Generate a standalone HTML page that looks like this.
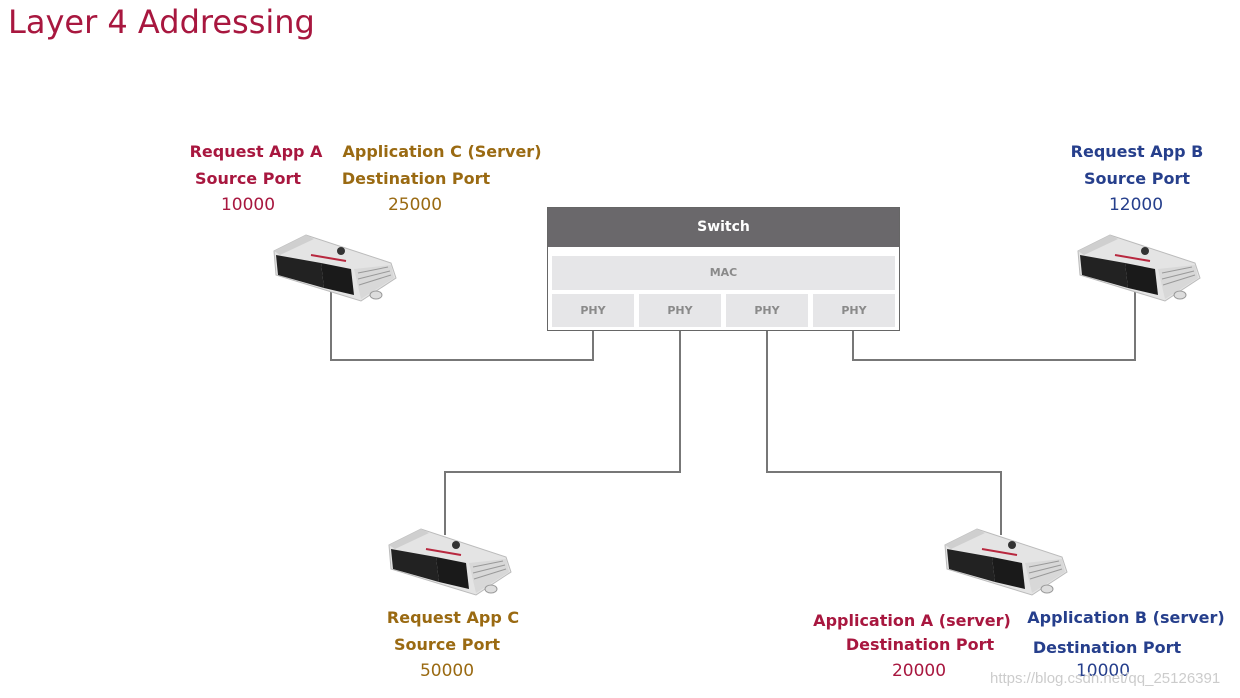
<!DOCTYPE html>
<html><head><meta charset="utf-8"><style>
body{margin:0;width:1240px;height:698px;background:#fff;position:relative;overflow:hidden;font-family:"DejaVu Sans","Liberation Sans",sans-serif}
.t{position:absolute;font-weight:bold;font-size:16px;white-space:nowrap;transform:translateX(-50%);line-height:18px}
.n{font-weight:normal;font-size:17px}
.r{color:#a8173f}.o{color:#9a6a12}.b{color:#263f8c}
.title{position:absolute;left:8px;top:3px;font-family:"DejaVu Sans",sans-serif;font-size:32px;color:#a8173f}
.cell{position:absolute;background:#e6e6e8;color:#8a8a8a;font-size:11px;font-weight:bold;text-align:center}
</style></head><body>
<div class="title">Layer 4 Addressing</div>
<svg width="1240" height="698" style="position:absolute;left:0;top:0">
<g stroke="#777" stroke-width="2" fill="none">
<polyline points="593,330 593,360 331,360 331,290"/>
<polyline points="853,330 853,360 1135,360 1135,290"/>
<polyline points="680,330 680,472 445,472 445,535"/>
<polyline points="767,330 767,472 1001,472 1001,535"/>
</g>
<defs>
<g id="ecu">
<polygon points="8,18 40,2 125,30 130,45 95,68 10,42" fill="#e4e4e4" stroke="#bbb"/>
<polygon points="8,18 40,2 48,6 14,22" fill="#cfcfcf"/>
<polygon points="10,22 55,30 58,55 12,42" fill="#222"/>
<polygon points="55,30 85,36 88,62 58,55" fill="#1a1a1a"/>
<polygon points="88,36 125,32 128,45 95,66" fill="#d8d8d8"/>
<line x1="92" y1="40" x2="122" y2="34" stroke="#999"/><line x1="92" y1="46" x2="124" y2="38" stroke="#999"/><line x1="93" y1="52" x2="125" y2="42" stroke="#999"/>
<line x1="45" y1="22" x2="80" y2="28" stroke="#b8283f" stroke-width="2"/>
<circle cx="75" cy="18" r="4" fill="#333"/>
<ellipse cx="110" cy="62" rx="6" ry="4" fill="#ddd" stroke="#999"/>
</g>
</defs>
<use href="#ecu" x="266" y="233"/>
<use href="#ecu" x="1070" y="233"/>
<use href="#ecu" x="381" y="527"/>
<use href="#ecu" x="937" y="527"/>
</svg>
<div style="position:absolute;left:547px;top:207px;width:351px;height:122px;border:1px solid #666;background:#fff"></div>
<div style="position:absolute;left:548px;top:208px;width:351px;height:39px;background:#6a686b;color:#fff;font-weight:bold;font-size:14px;text-align:center;line-height:39px">Switch</div>
<div class="cell" style="left:552px;top:256px;width:343px;height:34px;line-height:34px">MAC</div>
<div class="cell" style="left:552px;top:294px;width:82px;height:33px;line-height:33px">PHY</div>
<div class="cell" style="left:639px;top:294px;width:82px;height:33px;line-height:33px">PHY</div>
<div class="cell" style="left:726px;top:294px;width:82px;height:33px;line-height:33px">PHY</div>
<div class="cell" style="left:813px;top:294px;width:82px;height:33px;line-height:33px">PHY</div>

<div class="t r" style="left:256px;top:143px">Request App A</div>
<div class="t r" style="left:248px;top:170px">Source Port</div>
<div class="t r n" style="left:248px;top:196px">10000</div>
<div class="t o" style="left:442px;top:143px">Application C (Server)</div>
<div class="t o" style="left:416px;top:170px">Destination Port</div>
<div class="t o n" style="left:415px;top:196px">25000</div>
<div class="t b" style="left:1137px;top:143px">Request App B</div>
<div class="t b" style="left:1137px;top:170px">Source Port</div>
<div class="t b n" style="left:1136px;top:196px">12000</div>
<div class="t o" style="left:453px;top:609px">Request App C</div>
<div class="t o" style="left:447px;top:636px">Source Port</div>
<div class="t o n" style="left:447px;top:662px">50000</div>
<div class="t r" style="left:912px;top:612px">Application A (server)</div>
<div class="t r" style="left:920px;top:636px">Destination Port</div>
<div class="t r n" style="left:919px;top:662px">20000</div>
<div class="t b" style="left:1126px;top:609px">Application B (server)</div>
<div class="t b" style="left:1107px;top:639px">Destination Port</div>
<div class="t b n" style="left:1103px;top:662px">10000</div>
<div style="position:absolute;left:990px;top:670px;font-family:'Liberation Sans',sans-serif;font-size:15px;color:#ccc">https://blog.csdn.net/qq_25126391</div>
</body></html>
